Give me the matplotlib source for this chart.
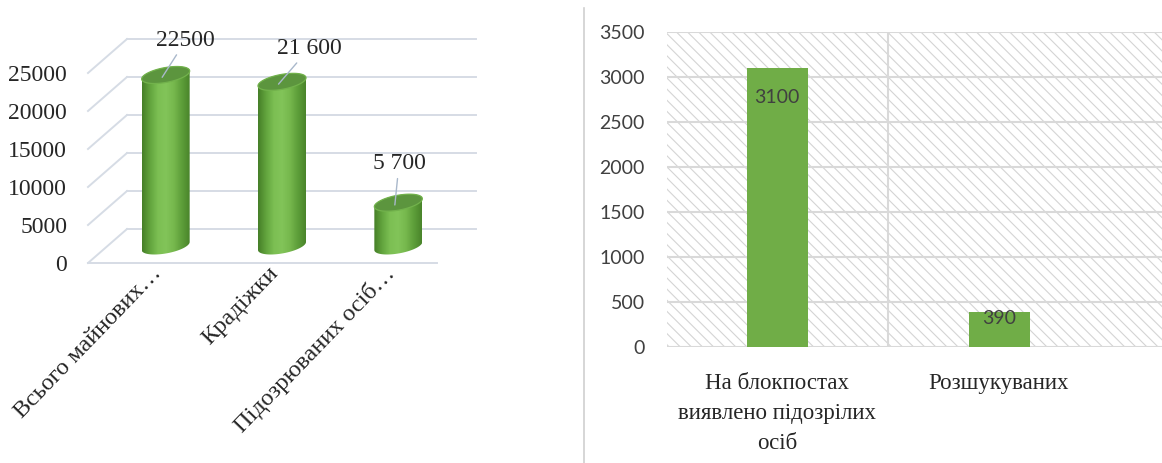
import numpy as np
import matplotlib
matplotlib.use('Agg')
import matplotlib.pyplot as plt
from matplotlib.patches import Polygon, Rectangle
from matplotlib.lines import Line2D
from matplotlib.colors import LinearSegmentedColormap
from matplotlib.transforms import ScaledTranslation

# left chart data
left_cats = ['Всього майнових…', 'Крадіжки', 'Підозрюваних осіб…']
left_vals = [22500, 21600, 5700]
left_text = ['22500', '21 600', '5 700']
left_ticks = [0, 5000, 10000, 15000, 20000, 25000]

# right chart data
right_cats = ['На блокпостах\nвиявлено підозрілих\nосіб', 'Розшукуваних']
right_vals = [3100, 390]
right_ticks = [0, 500, 1000, 1500, 2000, 2500, 3000, 3500]

plt.rcParams['hatch.linewidth'] = 0.8
SERIF = 'Liberation Serif'
SANS = 'Lato'

W, H = 1162, 463
fig = plt.figure(figsize=(W / 100, H / 100), dpi=100)

# ---------- left: pseudo 3D cylinders ----------
ax1 = fig.add_axes([0, 0, 580 / W, 1])
kx = 349 / 3.0          # px per category
ky = 190 / 25000.0      # px per unit
x0_px, y0_px = 88, 200  # where (-0.5, 0) sits, px from left / bottom
ax1.set_xlim(-0.5 - x0_px / kx, -0.5 + (580 - x0_px) / kx)
ax1.set_ylim(-y0_px / ky, (H - y0_px) / ky)
ax1.set_facecolor('none')
for s in ax1.spines.values():
    s.set_visible(False)
ax1.spines['left'].set_position(('data', -0.5))
ax1.spines['bottom'].set_position(('data', 0))

dx = 39 / kx
dy = 34 / ky
gcol = '#D6DCE5'
for v in left_ticks:
    ax1.plot([-0.5, -0.5 + dx], [v, v + dy], color=gcol, lw=1.4, zorder=1)
    ax1.plot([-0.5 + dx, 2.5 + dx], [v + dy, v + dy], color=gcol, lw=1.4, zorder=1)
ax1.plot([-0.5, 2.5], [0, 0], color=gcol, lw=1.4, zorder=1)

ax1.set_yticks(left_ticks)
ax1.set_yticklabels([str(t) for t in left_ticks], fontfamily=SERIF, fontsize=17, color='#262626')
ax1.set_xticks(range(len(left_cats)))
ax1.set_xticklabels(left_cats, fontfamily=SERIF, fontsize=17.5, color='#262626',
                    rotation=46, ha='right', rotation_mode='anchor')
ax1.tick_params(length=0)
ax1.tick_params(axis='y', pad=15)
ax1.tick_params(axis='x', pad=7)
shift = ScaledTranslation(5 / 100, 10 / 100, fig.dpi_scale_trans)
for lbl in ax1.get_xticklabels():
    lbl.set_transform(lbl.get_transform() + shift)

cyl_cmap = LinearSegmentedColormap.from_list(
    'cyl', ['#467F28', '#63A53E', '#7CBF53', '#82C459', '#76B84D', '#5E9F3A', '#4A852B'])
r = 24 / kx
b = 7.5 / ky
tilt = (4 / ky) / r
t = np.linspace(0, 2 * np.pi, 120)
for i, v in enumerate(left_vals):
    xc = i + dx / 2
    yb = dy / 2
    yt = v + dy / 2
    ex = r * np.cos(t)
    ey = b * np.sin(t) + tilt * ex
    lower = t >= np.pi
    upper = t <= np.pi
    body_x = np.concatenate([xc + ex[lower], xc + ex[upper]])
    body_y = np.concatenate([yb + ey[lower], yt + ey[upper]])
    body = Polygon(np.column_stack([body_x, body_y]), closed=True,
                   facecolor='none', edgecolor='none', transform=ax1.transData)
    ax1.add_patch(body)
    grad = np.linspace(0, 1, 64).reshape(1, -1)
    im = ax1.imshow(grad, cmap=cyl_cmap, aspect='auto', zorder=3,
                    extent=(xc - r, xc + r, yb - 2 * b, yt + 2 * b),
                    interpolation='bilinear')
    im.set_clip_path(body)
    top = Polygon(np.column_stack([xc + ex, yt + ey]), closed=True,
                  facecolor='#5C953E', edgecolor='#72B24C', lw=0.9, zorder=4)
    ax1.add_patch(top)

label_off = [(17, 19), (22, 18), (3, 22)]
for i, (v, txt) in enumerate(zip(left_vals, left_text)):
    xc = i + dx / 2
    yt = v + dy / 2
    ax1.annotate(txt, xy=(xc - 0.03, yt - 300), xytext=label_off[i],
                 textcoords='offset points', ha='center', va='bottom',
                 fontfamily=SERIF, fontsize=17, color='#262626', zorder=5,
                 arrowprops=dict(arrowstyle='-', color='#A9B8CB', lw=1,
                                 shrinkA=1, shrinkB=0))

# ---------- divider ----------
fig.add_artist(Line2D([584 / W, 584 / W], [0, (H - 8) / H], color='#D0D0D0', lw=1.2))

# ---------- right: flat bars on hatched background ----------
ax2 = fig.add_axes([667 / W, (H - 347) / H, (W - 667) / W, 315 / H])
kx2 = 222.0
ax2.set_xlim(-110 / kx2, (W - 777) / kx2)
ax2.set_ylim(0, 3500)
for s in ax2.spines.values():
    s.set_visible(False)
ax2.add_patch(Rectangle((0, 0), 1, 1, transform=ax2.transAxes, facecolor='white',
                        edgecolor='#D4D4D4', hatch='\\\\\\', lw=0, zorder=0))
for v in right_ticks:
    ax2.axhline(v, color='#D9D9D9', lw=1.5, zorder=1)
ax2.axvline(0.5, color='#D9D9D9', lw=1.5, zorder=1)
xs = np.arange(len(right_vals))
ax2.bar(xs, right_vals, width=61 / kx2, color='#70AD47', zorder=3)
for x, v in zip(xs, right_vals):
    ax2.text(x, v - min(330, v * 0.2), str(v), ha='center', va='center',
             fontfamily=SANS, fontsize=14, color='#404040', zorder=4)
ax2.set_yticks(right_ticks)
ax2.set_yticklabels([str(t) for t in right_ticks], fontfamily=SANS, fontsize=14, color='#404040')
ax2.set_xticks(xs)
ax2.set_xticklabels(right_cats, fontfamily=SERIF, fontsize=16.5, color='#262626',
                    linespacing=1.55)
ax2.tick_params(length=0)
ax2.tick_params(axis='y', pad=16)
ax2.tick_params(axis='x', pad=19)

fig.savefig('out.png', dpi=100)
